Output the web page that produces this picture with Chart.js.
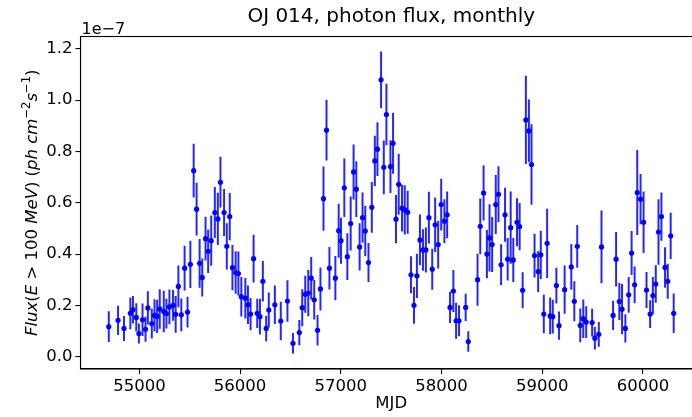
<!DOCTYPE html>
<html>
<head>
<meta charset="utf-8">
<script src="https://cdn.jsdelivr.net/npm/chart.js@4/dist/chart.umd.min.js"></script>
<style>
  html, body { margin: 0; padding: 0; background: #fff; overflow: hidden; width: 692px; height: 417px; }
  #wrap { position: relative; width: 692px; height: 417px; overflow: hidden; }
  #fluxChart { position: absolute; left: 0; top: 0; display: block; width: 706px; height: 417px; }
</style>
</head>
<body>
<div id="wrap"><canvas id="fluxChart" width="706" height="417"></canvas></div>
<script>
// monthly bins (MJD) and photon flux, in units of 1e-7 ph cm^-2 s^-1
const mjd = [
  54696, 54788, 54847, 54910, 54936, 54969, 54995, 55031, 55061, 55084, 55123, 55150, 55176, 55202, 55242, 55268, 55298, 55334, 55360, 55387, 55416, 55449, 55478,
  55506, 55539, 55568, 55598, 55624, 55657, 55683, 55713, 55749, 55779, 55805, 55841, 55868, 55897, 55924, 55956, 55983, 56012, 56052, 56078, 56104, 56134, 56170, 56197, 56226, 56259, 56285, 56345, 56404, 56470,
  56525, 56588, 56617, 56647, 56677, 56706, 56736, 56769, 56798, 56828, 56858, 56887, 56946, 56979, 57002, 57035, 57065, 57098, 57127, 57154, 57187, 57216, 57243, 57275, 57308, 57338, 57364, 57400, 57427, 57453, 57493, 57519, 57548,
  57575, 57608, 57635, 57664, 57697, 57727, 57756, 57786, 57816, 57845, 57875, 57908, 57937, 57967, 57997, 58029, 58056, 58085, 58118, 58145, 58174, 58240, 58266, 58358, 58385, 58418, 58451, 58477, 58503, 58539, 58566,
  58592, 58631, 58657, 58687, 58713, 58750, 58776, 58806, 58838, 58868, 58894, 58924, 58960, 58986, 59016, 59049, 59079, 59105, 59141, 59167, 59223, 59289, 59319, 59348, 59378, 59408, 59437, 59496, 59523, 59562, 59589,
  59704, 59734, 59766, 59793, 59826, 59859, 59888, 59918, 59944, 59977, 60007, 60036, 60072, 60099, 60128, 60155, 60184, 60220, 60247, 60276, 60306
];
const flux = [
  0.117, 0.142, 0.110, 0.169, 0.183, 0.153, 0.090, 0.144, 0.107, 0.190, 0.129, 0.161, 0.157, 0.186, 0.176, 0.168, 0.194, 0.200, 0.165, 0.274, 0.163, 0.345, 0.174,
  0.360, 0.725, 0.575, 0.364, 0.309, 0.460, 0.411, 0.452, 0.562, 0.537, 0.680, 0.562, 0.430, 0.546, 0.347, 0.328, 0.324, 0.234, 0.228, 0.202, 0.166, 0.382, 0.169, 0.156, 0.294, 0.110, 0.182, 0.202, 0.139, 0.217,
  0.052, 0.094, 0.191, 0.243, 0.248, 0.306, 0.222, 0.103, 0.264, 0.616, 0.883, 0.345, 0.306, 0.491, 0.452, 0.658, 0.390, 0.519, 0.720, 0.653, 0.428, 0.542, 0.490, 0.367, 0.582, 0.763, 0.809, 1.079, 0.738, 0.944, 0.741, 0.832, 0.536,
  0.672, 0.579, 0.572, 0.563, 0.319, 0.200, 0.315, 0.455, 0.416, 0.416, 0.542, 0.341, 0.514, 0.437, 0.593, 0.528, 0.553, 0.192, 0.256, 0.140, 0.140, 0.192, 0.059, 0.300, 0.508, 0.638, 0.400, 0.463, 0.437, 0.593, 0.633,
  0.358, 0.553, 0.380, 0.503, 0.377, 0.524, 0.507, 0.259, 0.923, 0.880, 0.749, 0.394, 0.332, 0.397, 0.166, 0.442, 0.159, 0.156, 0.277, 0.121, 0.261, 0.350, 0.216, 0.430, 0.122, 0.148, 0.135, 0.133, 0.072, 0.087, 0.428,
  0.161, 0.380, 0.215, 0.185, 0.110, 0.241, 0.404, 0.280, 0.640, 0.614, 0.524, 0.260, 0.166, 0.238, 0.283, 0.486, 0.546, 0.348, 0.294, 0.471, 0.169
];
const fluxErr = [
  0.060, 0.057, 0.049, 0.062, 0.054, 0.055, 0.039, 0.063, 0.049, 0.065, 0.058, 0.063, 0.065, 0.077, 0.081, 0.058, 0.068, 0.060, 0.072, 0.081, 0.064, 0.087, 0.060,
  0.092, 0.105, 0.103, 0.095, 0.074, 0.085, 0.085, 0.098, 0.099, 0.102, 0.099, 0.092, 0.090, 0.092, 0.088, 0.083, 0.086, 0.077, 0.079, 0.075, 0.063, 0.093, 0.057, 0.070, 0.079, 0.050, 0.068, 0.075, 0.075, 0.081,
  0.040, 0.049, 0.072, 0.072, 0.090, 0.083, 0.077, 0.059, 0.084, 0.125, 0.118, 0.083, 0.086, 0.105, 0.090, 0.114, 0.091, 0.105, 0.107, 0.109, 0.092, 0.098, 0.098, 0.076, 0.099, 0.098, 0.105, 0.111, 0.105, 0.120, 0.103, 0.119, 0.094,
  0.119, 0.091, 0.096, 0.084, 0.072, 0.072, 0.086, 0.099, 0.081, 0.088, 0.101, 0.080, 0.106, 0.093, 0.101, 0.086, 0.091, 0.061, 0.082, 0.070, 0.060, 0.053, 0.040, 0.101, 0.109, 0.107, 0.094, 0.131, 0.107, 0.115, 0.109,
  0.080, 0.105, 0.083, 0.141, 0.086, 0.094, 0.092, 0.070, 0.172, 0.122, 0.157, 0.085, 0.080, 0.094, 0.075, 0.135, 0.072, 0.066, 0.070, 0.055, 0.094, 0.089, 0.078, 0.083, 0.066, 0.075, 0.062, 0.054, 0.044, 0.048, 0.142,
  0.057, 0.106, 0.072, 0.098, 0.055, 0.070, 0.086, 0.072, 0.166, 0.098, 0.120, 0.070, 0.054, 0.073, 0.073, 0.128, 0.094, 0.079, 0.068, 0.090, 0.077
];
const xTickValues = [55000, 56000, 57000, 58000, 59000, 60000];
const yTickValues = [0.0, 0.2, 0.4, 0.6, 0.8, 1.0, 1.2];

const FONT = 'DejaVu Sans';

// vertical error bars, drawn through the chart scales
const errorBars = {
  id: 'errorBars',
  beforeDatasetsDraw(chart) {
    const { ctx, chartArea: a, scales: { x, y } } = chart;
    ctx.save();
    ctx.beginPath();
    ctx.rect(a.left, a.top, a.right - a.left, a.bottom - a.top);
    ctx.clip();
    ctx.strokeStyle = 'rgba(0,0,255,0.85)';
    ctx.lineWidth = 2;
    mjd.forEach((m, i) => {
      const px = x.getPixelForValue(m);
      ctx.beginPath();
      ctx.moveTo(px, y.getPixelForValue(flux[i] - fluxErr[i]));
      ctx.lineTo(px, y.getPixelForValue(flux[i] + fluxErr[i]));
      ctx.stroke();
    });
    ctx.restore();
  }
};

// frame, offset text and the y label with superscripts
const decorations = {
  id: 'decorations',
  afterDraw(chart) {
    const { ctx, chartArea: a } = chart;
    ctx.save();
    ctx.strokeStyle = '#000';
    ctx.lineWidth = 1.1;
    ctx.strokeRect(a.left, a.top, a.right - a.left, a.bottom - a.top);

    ctx.fillStyle = '#000';
    ctx.textAlign = 'left';
    ctx.textBaseline = 'alphabetic';
    ctx.font = '16px "' + FONT + '"';
    ctx.fillText('1e\u22127', a.left + 1, a.top - 2.5);

    const size = 16.5;
    const parts = [
      ['Flux', 'italic'], ['(', ''], ['E', 'italic'], [' > 100 ', ''], ['MeV', 'italic'],
      [') (', ''], ['ph cm', 'italic'], ['\u22122', 'sup'], ['s', 'italic'], ['\u22121', 'sup'], [')', '']
    ];
    const fontFor = st => st === 'sup' ? (size * 0.7) + 'px "' + FONT + '"'
      : (st === 'italic' ? 'italic ' : '') + size + 'px "' + FONT + '"';
    let total = 0;
    parts.forEach(([t, st]) => { ctx.font = fontFor(st); total += ctx.measureText(t).width; });
    ctx.translate(37, (a.top + a.bottom) / 2);
    ctx.rotate(-Math.PI / 2);
    let cx = -total / 2;
    parts.forEach(([t, st]) => {
      ctx.font = fontFor(st);
      ctx.fillText(t, cx, st === 'sup' ? -7 : 0);
      cx += ctx.measureText(t).width;
    });
    ctx.restore();
  }
};

new Chart(document.getElementById('fluxChart'), {
  type: 'scatter',
  data: {
    datasets: [{
      data: mjd.map((m, i) => ({ x: m, y: flux[i] })),
      backgroundColor: '#0000ff',
      borderWidth: 0,
      pointRadius: 2.6,
      showLine: false
    }]
  },
  options: {
    responsive: false,
    devicePixelRatio: 1,
    animation: false,
    layout: { padding: 0 },
    plugins: {
      legend: { display: false },
      tooltip: { enabled: false },
      title: {
        display: true,
        fullSize: false,
        text: 'OJ 014, photon flux, monthly',
        color: '#000',
        font: { family: FONT, size: 20, weight: 'normal' },
        padding: { top: 5, bottom: 7.5 }
      }
    },
    scales: {
      x: {
        type: 'linear',
        min: 54415,
        max: 60587,
        afterBuildTicks: s => { s.ticks = xTickValues.map(v => ({ value: v })); },
        afterFit: s => { s.height = 48; },
        grid: { drawOnChartArea: false, drawTicks: true, tickLength: 5, color: '#000', lineWidth: 1.1 },
        border: { display: true, color: '#000', width: 1.1 },
        ticks: { color: '#000', font: { family: FONT, size: 16.5 }, padding: 3, maxRotation: 0, autoSkip: false, callback: v => String(v) },
        title: { display: true, text: 'MJD', color: '#000', font: { family: FONT, size: 16.5 }, padding: { top: 0, bottom: 3 } }
      },
      y: {
        min: -0.048,
        max: 1.248,
        afterBuildTicks: s => { s.ticks = yTickValues.map(v => ({ value: v })); },
        afterFit: s => { s.width = 80.5; },
        grid: { drawOnChartArea: false, drawTicks: true, tickLength: 5, color: '#000', lineWidth: 1.1 },
        border: { display: true, color: '#000', width: 1.1 },
        ticks: { color: '#000', font: { family: FONT, size: 16.5 }, padding: 3, autoSkip: false, callback: v => v.toFixed(1) }
      }
    }
  },
  plugins: [errorBars, decorations]
});
</script>
</body>
</html>
